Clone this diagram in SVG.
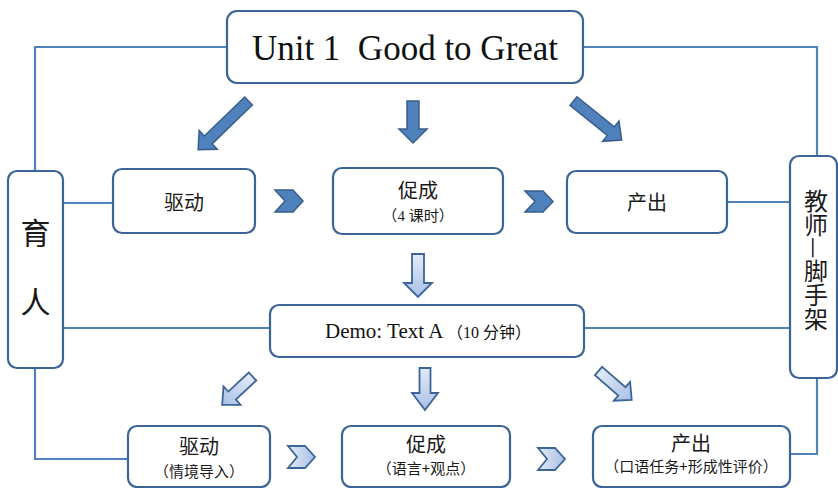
<svg xmlns="http://www.w3.org/2000/svg" width="838" height="488" viewBox="0 0 838 488">
<style>
.box{fill:#fff;stroke:#3b6497;stroke-width:2.2}
.ln{fill:none;stroke:#4f81bd;stroke-width:2.2}
.dk{fill:#4f81bd;stroke:#385d8a;stroke-width:1.5;stroke-linejoin:miter}
.lt{fill:url(#lg);stroke:#3b6497;stroke-width:1.8;stroke-linejoin:miter}
.cjk{font-family:"Noto Sans CJK SC",sans-serif;fill:#1a1a1a;text-anchor:middle}
.ser{font-family:"Liberation Serif","Noto Sans CJK SC",serif;fill:#111}
</style>
<defs>
<linearGradient id="lg" x1="0" y1="0" x2="1" y2="0">
<stop offset="0" stop-color="#e2eaf6"/>
<stop offset="1" stop-color="#a9c0e6"/>
</linearGradient>
</defs>
<g id="connectors">
<polyline class="ln" points="227,47 35,47 35,172"/>
<polyline class="ln" points="583,47 817,47 817,156"/>
<line class="ln" x1="63" y1="203" x2="113" y2="203"/>
<line class="ln" x1="727" y1="202" x2="790" y2="202"/>
<line class="ln" x1="63" y1="328" x2="270" y2="328"/>
<line class="ln" x1="584" y1="328" x2="790" y2="328"/>
<polyline class="ln" points="35,368 35,459 128,459"/>
<polyline class="ln" points="790,454 817,454 817,378"/>
<polygon class="dk" transform="translate(248.5,101) rotate(136)" points="0,-5.5 56,-5.5 56,-13 70,0 56,13 56,5.5 0,5.5"/>
<polygon class="dk" transform="translate(413,101) rotate(90)" points="0,-6 28,-6 28,-14 42,0 28,14 28,6 0,6"/>
<polygon class="dk" transform="translate(573.5,101) rotate(39)" points="0,-5.5 48,-5.5 48,-13 62,0 48,13 48,5.5 0,5.5"/>
<polygon class="lt" transform="translate(418,254) rotate(90)" points="0,-6 29,-6 29,-14 43,0 29,14 29,6 0,6"/>
<polygon class="lt" transform="translate(252.5,376.5) rotate(137)" points="0,-5.5 28,-5.5 28,-12.5 41.5,0 28,12.5 28,5.5 0,5.5"/>
<polygon class="lt" transform="translate(425,368) rotate(90)" points="0,-5.5 25,-5.5 25,-13 42,0 25,13 25,5.5 0,5.5"/>
<polygon class="lt" transform="translate(598.5,371) rotate(41)" points="0,-5.5 31,-5.5 31,-12.5 44,0 31,12.5 31,5.5 0,5.5"/>
<polygon class="dk" points="275,190 293,190 303,201 293,212 275,212 285,201"/>
<polygon class="dk" points="525,191 543,191 553,201.5 543,212 525,212 535,201.5"/>
<polygon class="lt" points="288,446 305,446 315,457 305,468 288,468 297,457"/>
<polygon class="lt" points="538,448 555,448 565,459 555,470 538,470 547,459"/>
</g>
<g id="title">
<rect class="box" x="227" y="11" width="356" height="72" rx="10"/>
<text class="ser" x="405" y="60" font-size="35" text-anchor="middle" xml:space="preserve">Unit 1  Good to Great</text>
</g>
<g id="yuren">
<rect class="box" x="8" y="171" width="55" height="197" rx="9"/>
<text class="cjk" x="35.5" y="244" font-size="30">育</text>
<text class="cjk" x="35.5" y="313" font-size="30">人</text>
</g>
<g id="jiaoshi">
<rect class="box" x="790" y="156" width="47" height="222" rx="9"/>
<text font-family="Noto Sans CJK SC, sans-serif" fill="#1a1a1a" writing-mode="vertical-rl" x="816" y="189" font-size="24">教师—脚手架</text>
</g>
<g id="qudong1">
<rect class="box" x="113" y="169" width="142" height="64" rx="9"/>
<text class="cjk" x="184" y="209.5" font-size="20">驱动</text>
</g>
<g id="cucheng1">
<rect class="box" x="333" y="168" width="170" height="66" rx="9"/>
<text class="cjk" x="418" y="197.5" font-size="20">促成</text>
<text class="cjk" x="418" y="221" font-size="15">（<tspan font-family="Liberation Serif">4 </tspan>课时）</text>
</g>
<g id="chanchu1">
<rect class="box" x="567" y="171" width="160" height="62" rx="9"/>
<text class="cjk" x="647" y="209.5" font-size="20">产出</text>
</g>
<g id="demo">
<rect class="box" x="270" y="305" width="314" height="52" rx="9"/>
<text class="ser" x="325" y="338" font-size="21">Demo: Text A<tspan font-size="16" font-family="Noto Sans CJK SC"> （</tspan><tspan font-size="16">10 </tspan><tspan font-size="16" font-family="Noto Sans CJK SC">分钟）</tspan></text>
</g>
<g id="qudong2">
<rect class="box" x="128" y="426" width="142" height="61" rx="9"/>
<text class="cjk" x="199" y="453.5" font-size="20">驱动</text>
<text class="cjk" x="199" y="476.5" font-size="15">（情境导入）</text>
</g>
<g id="cucheng2">
<rect class="box" x="342" y="426" width="168" height="61" rx="9"/>
<text class="cjk" x="426" y="451.5" font-size="20">促成</text>
<text class="cjk" x="426" y="474" font-size="15">（语言+观点）</text>
</g>
<g id="chanchu2">
<rect class="box" x="593" y="426" width="197" height="61" rx="9"/>
<text class="cjk" x="691" y="450.5" font-size="20">产出</text>
<text class="cjk" x="691" y="472" font-size="15">（口语任务+形成性评价）</text>
</g>
</svg>
